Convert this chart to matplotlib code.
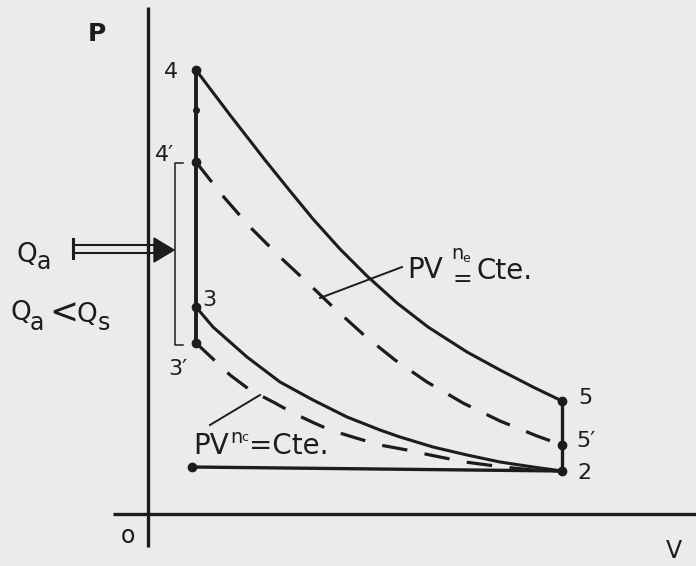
import numpy as np
import matplotlib.pyplot as plt
from matplotlib.patches import Polygon

# P-V diagram of an Otto cycle with heat losses through the walls
# (units are arbitrary: V measured from the P axis, P measured from the V axis)

# expansion 4 -> 5 (adiabatic, solid) and 4' -> 5' (polytropic n_e, dashed)
exp_V = [48, 82, 117, 142, 165, 192, 219, 249, 280, 319, 352, 385, 414]
exp_P = [443, 398, 353, 322, 294, 264, 237, 210, 186, 161, 143, 126, 112]
exp_loss_V = [48, 74, 102, 132, 162, 185, 217, 247, 279, 315, 352, 389, 414]
exp_loss_P = [351, 318, 286, 256, 228, 206, 177, 153, 131, 110, 92, 77, 68]

# compression 2 -> 3 (adiabatic, solid) and 2 -> 3' (polytropic n_c, dashed)
comp_V = [48, 65, 99, 132, 165, 199, 232, 252, 285, 319, 352, 385, 414]
comp_P = [206, 186, 156, 131, 113, 96, 83, 76, 66, 58, 51, 46, 42]
comp_loss_V = [48, 64, 82, 102, 127, 145, 164, 182, 208, 232, 259, 282, 317, 355, 385, 414]
comp_loss_P = [170, 155, 138, 123, 110, 100, 91, 83, 75, 68, 63, 58, 51, 46, 43, 42]

# intake / exhaust line and state points
intake_V = [44, 414]
intake_P = [46, 42]
state_names = ['4', "4'", '3', "3'", '5', "5'", '2']
state_V = [48, 48, 48, 48, 414, 414, 414]
state_P = [443, 351, 206, 170, 112, 68, 42]
tick_V, tick_P = 48, 403

ink = '#1c1c1c'
paper = '#ebebe9'

fig = plt.figure(figsize=(6.96, 5.66), dpi=100, facecolor=paper)
ax = fig.add_axes([0, 0, 1, 1])
ax.set_facecolor(paper)
ax.set_xlim(-148, 548)
ax.set_ylim(-53, 513)
ax.axis('off')

# axes of the diagram
ax.plot([0, 0], [-34, 506], color=ink, lw=2.4, solid_capstyle='butt')
ax.plot([-35, 548], [-1, -1], color=ink, lw=2.4, solid_capstyle='butt')

# cycle
ax.plot(exp_V, exp_P, color=ink, lw=2.2)
ax.plot(comp_V, comp_P, color=ink, lw=2.2)
ax.plot(exp_loss_V, exp_loss_P, color=ink, lw=2.3, ls=(0, (8, 5.5)))
ax.plot(comp_loss_V, comp_loss_P, color=ink, lw=2.3, ls=(0, (8, 5.5)))
ax.plot(intake_V, intake_P, color=ink, lw=2.4)
ax.plot([state_V[0], state_V[3]], [state_P[0], state_P[3]], color=ink, lw=2.8)
ax.plot([state_V[4], state_V[6]], [state_P[4], state_P[6]], color=ink, lw=2.4)
ax.plot(state_V, state_P, 'o', color=ink, ms=6)
ax.plot([intake_V[0]], [intake_P[0]], 'o', color=ink, ms=6)
ax.plot([tick_V], [tick_P], 'o', color=ink, ms=4)

# state labels
lab_kw = dict(fontsize=16, color=ink, ha='center', va='center')
ax.text(23, 441, '4', **lab_kw)
ax.text(17, 358, "4\u2032", **lab_kw)
ax.text(61, 213, '3', **lab_kw)
ax.text(30, 144, "3\u2032", **lab_kw)
ax.text(437, 115, '5', **lab_kw)
ax.text(438, 72, "5\u2032", **lab_kw)
ax.text(436, 40, '2', **lab_kw)

# axis names
ax.text(-51, 479, 'P', fontsize=18, fontweight='bold', color=ink, ha='center', va='center')
ax.text(-20, -23, 'o', fontsize=17, color=ink, ha='center', va='center')
ax.text(526, -38, 'V', fontsize=17, color=ink, ha='center', va='center')

# bracket between 4' and 3'
ax.plot([35, 27, 27, 35], [350, 350, 168, 168], color=ink, lw=1.1)

# heat supplied arrow
ax.plot([-75, -75], [255, 274], color=ink, lw=2.2)
ax.plot([-75, 10], [268, 268], color=ink, lw=1.5)
ax.plot([-75, 10], [260, 260], color=ink, lw=1.5)
ax.add_patch(Polygon([[6, 275], [26, 263], [6, 251]], closed=True, color=ink))
ax.text(-132, 251, 'Q', fontsize=19, color=ink, ha='left', va='baseline')
ax.text(-111, 244, 'a', fontsize=17, color=ink, ha='left', va='baseline')

ax.text(-138, 193, 'Q', fontsize=19, color=ink, ha='left', va='baseline')
ax.text(-118, 183, 'a', fontsize=17, color=ink, ha='left', va='baseline')
ax.text(-84, 199, '<', fontsize=25, color=ink, ha='center', va='center')
ax.text(-71, 191, 'Q', fontsize=19, color=ink, ha='left', va='baseline')
ax.text(-50, 183, 's', fontsize=17, color=ink, ha='left', va='baseline')

# polytropic labels with leaders
ax.plot([254, 172], [246, 215], color=ink, lw=1.4)
ax.text(259, 235, 'PV', fontsize=20, color=ink, ha='left', va='baseline')
ax.text(303, 254, 'n', fontsize=14, color=ink, ha='left', va='baseline')
ax.text(314, 251, 'e', fontsize=9, color=ink, ha='left', va='baseline')
ax.text(314, 234, '=', fontsize=17, color=ink, ha='center', va='center')
ax.text(328, 234, 'Cte.', fontsize=20, color=ink, ha='left', va='baseline')

ax.plot([62, 112], [88, 118], color=ink, lw=1.4)
ax.text(45, 59, 'PV', fontsize=20, color=ink, ha='left', va='baseline')
ax.text(82, 70, 'n', fontsize=14, color=ink, ha='left', va='baseline')
ax.text(93, 72, 'c', fontsize=9, color=ink, ha='left', va='baseline')
ax.text(101, 59, '=Cte.', fontsize=20, color=ink, ha='left', va='baseline')

fig.savefig('out.png', dpi=100, facecolor=paper)
